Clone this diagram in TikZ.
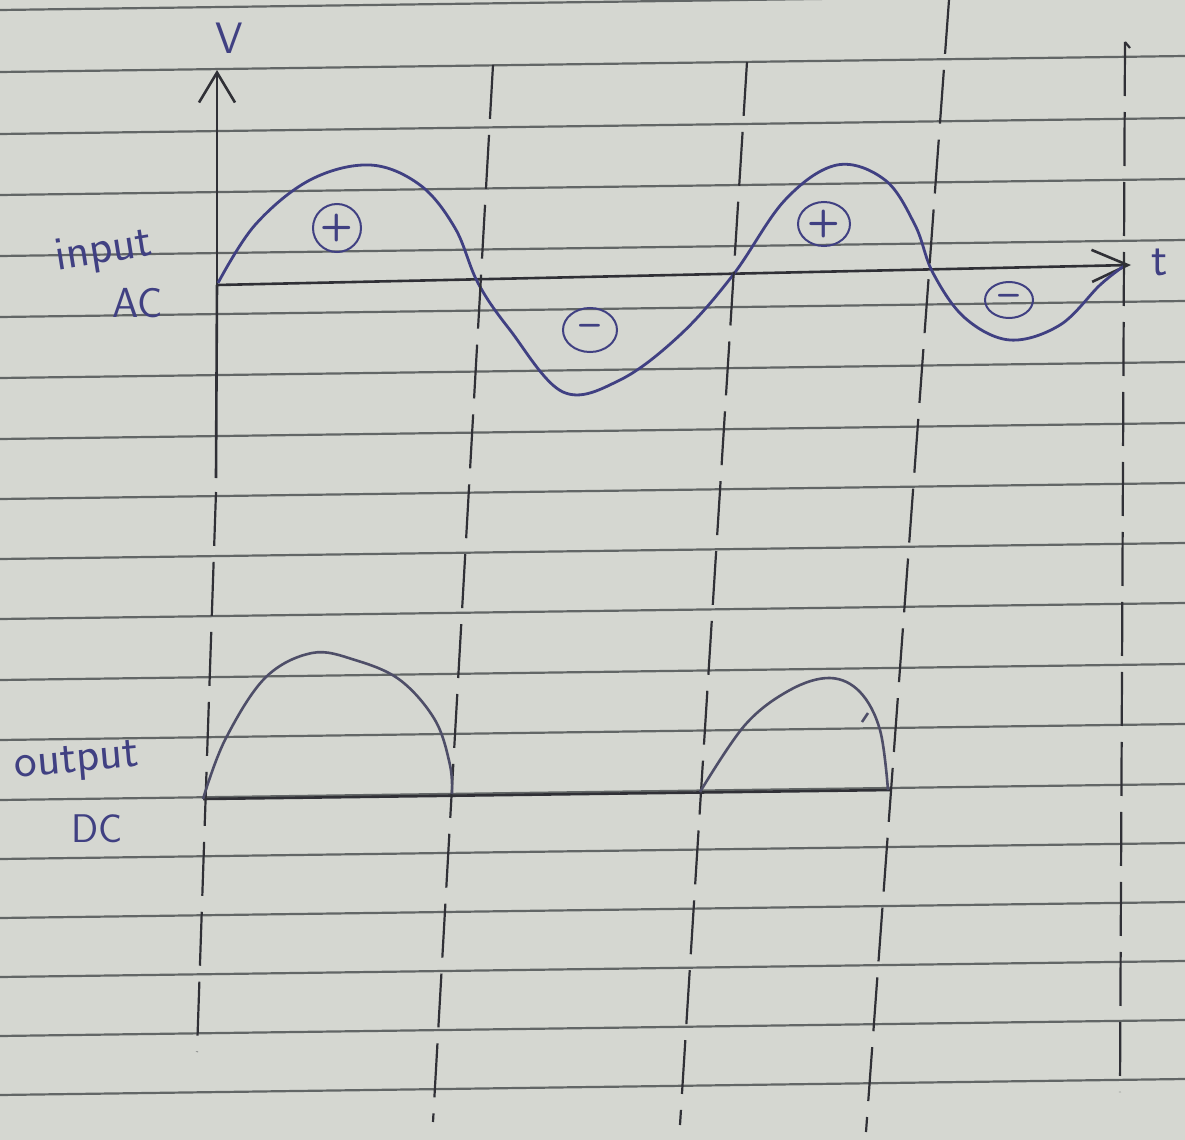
\documentclass[tikz,border=0pt]{standalone}
\usetikzlibrary{arrows.meta,shapes.geometric}
\definecolor{paper}{RGB}{213,215,209}
\definecolor{rulecol}{RGB}{98,102,102}
\definecolor{pen}{RGB}{64,64,130}
\definecolor{ink}{RGB}{48,48,54}
\definecolor{outink}{RGB}{78,78,104}
\tikzset{
  ruled/.style={draw=rulecol, line width=1.1pt},
  axisline/.style={draw=ink, line width=1.3pt},
  guide/.style={draw=ink, line width=1.1pt, dash pattern=on 27pt off 8pt},
  wave/.style={draw=pen, line width=1.4pt},
  outwave/.style={draw=outink, line width=1.3pt},
  hw/.style={text=pen, font=\sffamily\fontsize{19}{19}\selectfont, inner sep=0pt},
  sign/.style={ellipse, draw=pen, line width=1pt, text=pen, inner sep=0pt,
               font=\sffamily\bfseries\fontsize{19}{19}\selectfont},
}
\begin{document}
\begin{tikzpicture}[x=0.5pt,y=-0.5pt]
\fill[paper] (0,0) rectangle (1185,1140);
\useasboundingbox (0,0) rectangle (1185,1140);
% ruled lines of the notebook
\foreach \y in {10,72,134,195,256,317,378,439,499,559,619,680,740,800,859,918,977,1036,1095}
  \draw[ruled] (0,\y) -- (1185,\y-16);

% ---------- input AC ----------
\coordinate (O) at (217,285);
\coordinate (Vtop) at (217,70);
\coordinate (Vbot) at (216,478);
\coordinate (tend) at (1131,265);
\draw[axisline] (Vbot) -- (O);
\draw[axisline, -{Straight Barb[length=15pt,width=18pt,line width=1.3pt]}] (O) -- (Vtop);
\draw[axisline, -{Straight Barb[length=18pt,width=16pt,line width=1.3pt]}] (O) -- (tend);

\node[hw, font=\sffamily\fontsize{22}{22}\selectfont] (V) at (229,38) {V};
\node[hw, font=\sffamily\fontsize{24}{24}\selectfont] (t) at (1160,262) {t};
\node[hw, rotate=9, font=\sffamily\fontsize{24}{24}\selectfont] (in) at (104,252) {input};
\node[hw, font=\sffamily\fontsize{21}{21}\selectfont] (ac) at (138,303) {AC};

\draw[wave] plot[smooth, tension=0.6] coordinates {
 (218,283) (255,225) (310,180) (370,165) (420,185) (455,228) (478,283)
 (510,330) (563,392) (620,380) (680,335) (733,275) (785,200) (837,165)
 (885,180) (915,225) (933,273) (965,318) (1010,340) (1060,325) (1100,285)
 (1124,266)};

\node[sign, minimum width=24pt, minimum height=24pt] (p1) at (337,228) {+};
\node[sign, minimum width=27pt, minimum height=22pt] (m1) at (590,330) {\textendash};
\node[sign, minimum width=26pt, minimum height=22pt] (p2) at (824,224) {+};
\node[sign, minimum width=24pt, minimum height=18pt] (m2) at (1009,300) {\textendash};

% ---------- vertical guide lines ----------
\coordinate (g1a) at (216,492);  \coordinate (g1b) at (197,1052);
\coordinate (g2a) at (493,65);   \coordinate (g2b) at (433,1122);
\coordinate (g3a) at (747,62);   \coordinate (g3b) at (680,1125);
\coordinate (g4a) at (949,0);    \coordinate (g4b) at (866,1132);
\coordinate (g5a) at (1125,42);  \coordinate (g5b) at (1120,1092);
\draw[guide] (g1a) -- (g1b);
\draw[guide] (g2a) -- (g2b);
\draw[guide] (g3a) -- (g3b);
\draw[guide] (g4a) -- (g4b);
\draw[guide] (g5a) -- (g5b);
\draw[axisline, line width=1.1pt] (g5a) -- ++(5,6);

% ---------- output DC ----------
\coordinate (D0) at (203,799);
\coordinate (D1) at (891,790);
\draw[axisline] (D0) -- (D1);
\node[hw, rotate=5, font=\sffamily\fontsize{24}{24}\selectfont] (out) at (77,763) {output};
\node[hw, font=\sffamily\fontsize{20}{20}\selectfont] (dc) at (97,829) {DC};

\draw[outwave] plot[smooth, tension=0.6] coordinates {
 (203,799) (225,740) (265,678) (312,653) (355,660) (400,680) (435,720)
 (450,765) (452,794)};
\draw[outwave] plot[smooth, tension=0.6] coordinates {
 (700,792) (745,725) (790,690) (830,678) (860,692) (880,730) (888,790)};
\draw[outwave] (868,713) -- (862,722);
\end{tikzpicture}
\end{document}
